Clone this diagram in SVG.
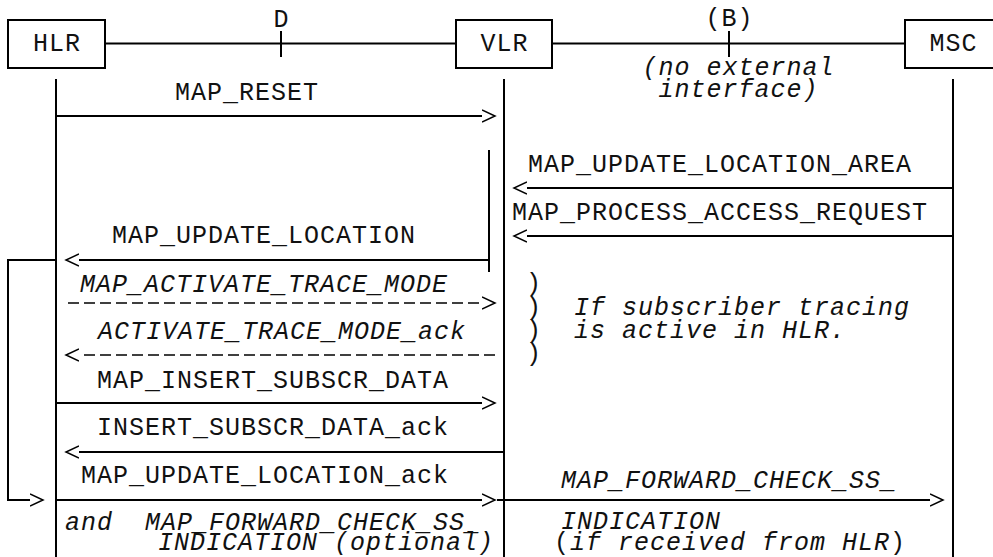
<svg xmlns="http://www.w3.org/2000/svg" width="993" height="557" viewBox="0 0 993 557">
<style>
  .t { font-family: "Liberation Mono", "DejaVu Sans Mono", monospace; font-size: 25px; letter-spacing: 1px; fill: #111; }
  .i { font-style: italic; }
  .n { font-style: normal; }
  .box { fill: #fff; stroke: #000; stroke-width: 2; }
  .ln { fill: none; stroke: #000; stroke-width: 2; }
  .life { fill: none; stroke: #000; stroke-width: 2; }
  .dash { fill: none; stroke: #000; stroke-width: 1.6; stroke-dasharray: 11 5; }
</style>
<defs>
  <marker id="chev" markerUnits="userSpaceOnUse" markerWidth="16" markerHeight="16" viewBox="0 -8 16 16" refX="0" refY="0" orient="auto">
    <path d="M0,-6 L13,0 L0,6" fill="none" stroke="#000" stroke-width="1.5"/>
  </marker>
</defs>
<rect width="993" height="557" fill="#fff"/>

<g id="HLR">
  <rect class="box" x="8" y="20" width="97" height="48"/>
  <text class="t" x="57" y="51" text-anchor="middle">HLR</text>
  <line class="life" x1="56" y1="79" x2="56" y2="557"/>
</g>
<g id="VLR">
  <rect class="box" x="456" y="20" width="96" height="48"/>
  <text class="t" x="504.5" y="51" text-anchor="middle">VLR</text>
  <line class="life" x1="504" y1="79" x2="504" y2="557"/>
  <line class="life" x1="489" y1="150" x2="489" y2="272"/>
</g>
<g id="MSC">
  <rect class="box" x="905" y="20" width="96" height="48"/>
  <text class="t" x="953.5" y="51" text-anchor="middle">MSC</text>
  <line class="life" x1="953" y1="79" x2="953" y2="557"/>
</g>

<g id="interfaces">
  <line class="ln" x1="105" y1="43.5" x2="456" y2="43.5"/>
  <line class="ln" x1="281" y1="31" x2="281" y2="57"/>
  <text class="t" x="281.5" y="27" text-anchor="middle">D</text>
  <line class="ln" x1="552" y1="43.5" x2="905" y2="43.5"/>
  <line class="ln" x1="729" y1="31" x2="729" y2="57"/>
  <text class="t" x="729.5" y="26" text-anchor="middle">(B)</text>
  <text class="t i" x="738.5" y="75" text-anchor="middle">(no external</text>
  <text class="t i" x="738.5" y="97" text-anchor="middle">interface)</text>
</g>

<g id="connectors">
  <line class="ln" x1="56" y1="116" x2="482" y2="116" marker-end="url(#chev)"/>
  <line class="ln" x1="953" y1="188" x2="527" y2="188" marker-end="url(#chev)"/>
  <line class="ln" x1="953" y1="236" x2="527" y2="236" marker-end="url(#chev)"/>
  <line class="ln" x1="489" y1="260" x2="79" y2="260" marker-end="url(#chev)"/>
  <polyline class="ln" points="56,260 8,260 8,500 30,500" marker-end="url(#chev)"/>
  <line class="dash" x1="68" y1="303" x2="482" y2="303" marker-end="url(#chev)"/>
  <line class="dash" x1="495" y1="355" x2="79" y2="355" marker-end="url(#chev)"/>
  <line class="ln" x1="56" y1="403" x2="482" y2="403" marker-end="url(#chev)"/>
  <line class="ln" x1="504" y1="452" x2="79" y2="452" marker-end="url(#chev)"/>
  <line class="ln" x1="56" y1="500" x2="482" y2="500" marker-end="url(#chev)"/>
  <line class="ln" x1="497" y1="500" x2="930" y2="500" marker-end="url(#chev)"/>
</g>

<g id="labels">
  <text class="t" x="175" y="100">MAP_RESET</text>
  <text class="t" x="528" y="172">MAP_UPDATE_LOCATION_AREA</text>
  <text class="t" x="512" y="220">MAP_PROCESS_ACCESS_REQUEST</text>
  <text class="t" x="112" y="243">MAP_UPDATE_LOCATION</text>
  <text class="t i" x="80" y="292">MAP_ACTIVATE_TRACE_MODE</text>
  <text class="t i" x="98" y="339">ACTIVATE_TRACE_MODE_ack</text>
  <text class="t" x="97" y="388">MAP_INSERT_SUBSCR_DATA</text>
  <text class="t" x="97" y="435">INSERT_SUBSCR_DATA_ack</text>
  <text class="t" x="81" y="483">MAP_UPDATE_LOCATION_ack</text>
  <text class="t i" x="65" y="530" xml:space="preserve">and  MAP_FORWARD_CHECK_SS_</text>
  <text class="t i" x="158" y="550">INDICATION (optional)</text>
  <text class="t i" x="561" y="488">MAP_FORWARD_CHECK_SS_</text>
  <text class="t i" x="561" y="529">INDICATION</text>
  <text class="t" x="554" y="550">(<tspan class="i">if received from HLR</tspan>)</text>
  <text class="t" x="526" y="291">)</text>
  <text class="t" x="526" y="315" xml:space="preserve">)  <tspan class="i">If subscriber tracing</tspan></text>
  <text class="t" x="526" y="338" xml:space="preserve">)  <tspan class="i">is active in HLR.</tspan></text>
  <text class="t" x="526" y="361">)</text>
</g>
</svg>
